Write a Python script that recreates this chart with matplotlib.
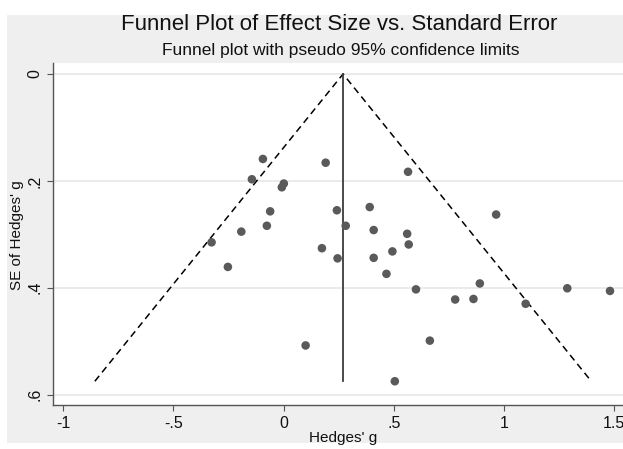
import matplotlib
matplotlib.use("Agg")
import matplotlib.pyplot as plt
from matplotlib.patches import Rectangle

# effet (Hedges' g) et erreur standard
hedges_g = [-0.094, 0.191, -0.144, 0.001, -0.008, -0.061, 0.242, 0.282, -0.192,
            -0.076, -0.327, 0.174, 0.245, -0.253, 0.100, 0.565, 0.391, 0.409,
            0.965, 0.561, 0.568, 0.409, 0.494, 0.467, 0.601, 0.891, 0.779,
            0.862, 1.099, 1.288, 1.482, 0.664, 0.505]
se_g = [0.159, 0.166, 0.197, 0.205, 0.212, 0.257, 0.255, 0.284, 0.295,
        0.284, 0.315, 0.326, 0.345, 0.361, 0.508, 0.183, 0.249, 0.292,
        0.263, 0.299, 0.319, 0.344, 0.332, 0.374, 0.403, 0.392, 0.422,
        0.421, 0.430, 0.401, 0.406, 0.499, 0.575]
effet_global = 0.27

xticks = [-1, -0.5, 0, 0.5, 1, 1.5]
xtick_labels = ["-1", "-.5", "0", ".5", "1", "1.5"]
yticks = [0, 0.2, 0.4, 0.6]
ytick_labels = ["0", ".2", ".4", ".6"]

plt.rcParams['font.family'] = ['Liberation Sans', 'DejaVu Sans']

W, H = 623, 449
fig = plt.figure(figsize=(W / 100, H / 100), dpi=100, facecolor='white')
# fond gris façon Stata
fig.patches.append(Rectangle((7 / W, (H - 443) / H), 1 - 7 / W, (443 - 15) / H,
                             transform=fig.transFigure, facecolor='#efefef',
                             edgecolor='none', zorder=-10))

ax = fig.add_axes([53 / W, (H - 405.3) / H, 1 - 53 / W, (405.3 - 63) / H])
ax.set_zorder(1)
ax.set_facecolor('white')
ax.set_xlim(-1.047, 1.541)
ax.set_ylim(0.620, -0.0206)

for y in yticks:
    ax.axhline(y, color='#e8e8e8', lw=1.2, zorder=1)

se_max = max(se_g)
z = 1.96
ax.plot([effet_global - z * se_max, effet_global, effet_global + z * se_max],
        [se_max, 0, se_max], color='black', lw=1.1, dashes=(4.5, 3), zorder=2)
ax.plot([effet_global, effet_global], [0, se_max], color='#3c3c3c', lw=1.3, zorder=2)
ax.scatter(hedges_g, se_g, s=38, color='#5a5a5a', edgecolors='none', zorder=3)

for s in ['top', 'right']:
    ax.spines[s].set_visible(False)
for s in ['left', 'bottom']:
    ax.spines[s].set_color('#555555')
    ax.spines[s].set_linewidth(1.0)

ax.set_xticks(xticks)
ax.set_xticklabels(xtick_labels)
ax.set_yticks(yticks)
ax.set_yticklabels(ytick_labels, rotation=90, va='center')
ax.tick_params(direction='out', length=4.5, width=0.8, color='#555555',
               labelsize=11.5, labelcolor='#111111', pad=3)

fig.text(17 / W, 1 - 235 / H, "SE of Hedges' g", rotation=90, ha='center',
         va='center', fontsize=11, color='#111111')
fig.text(343 / W, 1 - 438 / H, "Hedges' g", ha='center', va='center',
         fontsize=11, color='#111111')
fig.text(339 / W, 1 - 24 / H, "Funnel Plot of Effect Size vs. Standard Error",
         ha='center', va='center', fontsize=16, color='#111111')
fig.text(341 / W, 1 - 50 / H, "Funnel plot with pseudo 95% confidence limits",
         ha='center', va='center', fontsize=12.5, color='#111111')

fig.savefig('out.png', dpi=100, facecolor=fig.get_facecolor())
